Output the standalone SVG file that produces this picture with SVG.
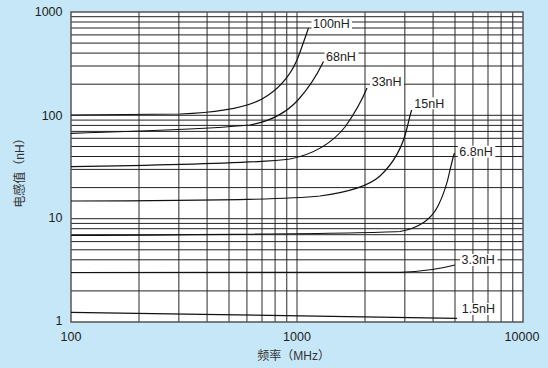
<svg xmlns="http://www.w3.org/2000/svg" width="548" height="368" viewBox="0 0 548 368">
<style>
.vg{stroke:#5c5c5c;stroke-width:1.3;fill:none}
.hg{stroke:#222;stroke-width:1;fill:none}
.cv{stroke:#111;stroke-width:1.2;fill:none}
.t{font-family:"Liberation Sans",Arial,sans-serif;font-size:12.5px;fill:#222}
.lb{fill:#fff}
.cjk{font-family:"Liberation Sans","Noto Sans CJK SC",sans-serif;font-size:12px;fill:#333}
</style>
<rect width="548" height="368" fill="#c6e7f7"/>
<g id="plot">
<rect x="71" y="12" width="452" height="310" fill="#fff"/>
<g id="vgrid">
<path class="vg" d="M139,12V322M178.8,12V322M207.1,12V322M229,12V322M246.9,12V322M262,12V322M275.1,12V322M286.7,12V322M297,12V322M365,12V322M404.8,12V322M433.1,12V322M455,12V322M472.9,12V322M488,12V322M501.1,12V322M512.7,12V322"/>
</g>
<g id="hgrid">
<path class="hg" d="M71,290.9H523M71,272.7H523M71,259.8H523M71,249.8H523M71,241.6H523M71,234.7H523M71,228.7H523M71,223.4H523M71,218.7H523M71,187.6H523M71,169.4H523M71,156.5H523M71,146.5H523M71,138.3H523M71,131.4H523M71,125.4H523M71,120.1H523M71,115.3H523M71,84.2H523M71,66H523M71,53.1H523M71,43.1H523M71,34.9H523M71,28H523M71,22H523M71,16.7H523"/>
</g>
<rect x="71" y="12" width="452" height="310" fill="none" stroke="#555" stroke-width="1.5"/>
</g>
<g id="connectors">
<path id="c100" class="cv" d="M71,115 L180,114 C215,112.5 245,108 262,99 C278,90 290,76 297,60 C301,50 305,38 308.5,28"/>
<path id="c68" class="cv" d="M71,133.3 C150,131 220,128 250,125 C272,121 287,112 298,100 C308,89 317,75 323.5,61.5"/>
<path id="c33" class="cv" d="M71,166.7 C180,165 260,163 290,159 C315,154 333,142 345,127 C355,113 362,100 367,88"/>
<path id="c15" class="cv" d="M71,201 C200,201 290,199 320,196 C350,192 370,185 380,176 C395,162 403,145 407,128 C409,120 410,115 411.7,110"/>
<path id="c68b" class="cv" d="M71,235.5 C250,234.5 370,233 400,231.5 C420,228 432,218 438,206 C444,194 448,180 450,170 C452,162 453,157 454.5,153"/>
<path id="c33b" class="cv" d="M71,272.5 L400,272.3 C425,271.5 440,269 455,265"/>
<path id="c15b" class="cv" d="M71,312.3 C200,314 350,317 457,318.3"/>
</g>
<g id="label-100nH"><rect class="lb" x="311.5" y="18" width="40.5" height="12"/><text class="t" x="313" y="28.4">100nH</text></g>
<g id="label-68nH"><rect class="lb" x="324.5" y="50.7" width="34" height="12"/><text class="t" x="326" y="61">68nH</text></g>
<g id="label-33nH"><rect class="lb" x="370" y="75.7" width="34" height="12"/><text class="t" x="371.7" y="86">33nH</text></g>
<g id="label-15nH"><rect class="lb" x="412.8" y="97.3" width="34" height="12"/><text class="t" x="414.3" y="107.6">15nH</text></g>
<g id="label-6.8nH"><rect class="lb" x="457.8" y="145.7" width="37.5" height="12"/><text class="t" x="459.3" y="156">6.8nH</text></g>
<g id="label-3.3nH"><rect class="lb" x="460" y="254" width="37.5" height="12"/><text class="t" x="461.5" y="264.3">3.3nH</text></g>
<g id="label-1.5nH"><rect class="lb" x="460.2" y="303" width="37.5" height="12"/><text class="t" x="461.7" y="313.3">1.5nH</text></g>
<g id="yticks">
<text class="t" x="62.5" y="16.4" text-anchor="end">1000</text>
<text class="t" x="62.5" y="119.5" text-anchor="end">100</text>
<text class="t" x="62.5" y="221.7" text-anchor="end">10</text>
<text class="t" x="62.5" y="325" text-anchor="end">1</text>
</g>
<g id="xticks">
<text class="t" x="71" y="340.5" text-anchor="middle">100</text>
<text class="t" x="297" y="340.5" text-anchor="middle">1000</text>
<text class="t" x="522" y="340.5" text-anchor="middle">10000</text>
</g>
<text class="cjk" x="293.7" y="359.5" text-anchor="middle">频率（MHz）</text>
<text class="cjk" transform="translate(23.5,170) rotate(-90)" text-anchor="middle">电感值（nH）</text>
</svg>
